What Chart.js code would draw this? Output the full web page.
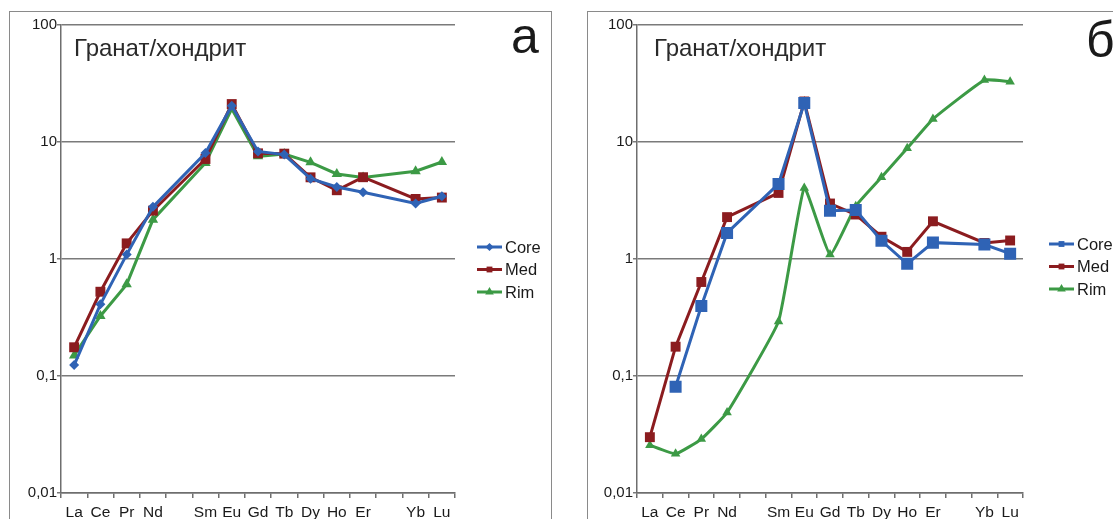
<!DOCTYPE html>
<html>
<head>
<meta charset="utf-8">
<script src="https://cdn.jsdelivr.net/npm/chart.js@4.4.1/dist/chart.umd.min.js"></script>
<style>
  html, body { margin: 0; padding: 0; background: #fff; }
  body { width: 1113px; height: 519px; position: relative; overflow: hidden; font-family: "Liberation Sans", Arial, sans-serif; }
  .frame { position: absolute; border: 1.5px solid #8a8a8a; }
  .box { position: absolute; top: 0; height: 519px; }
  .title { position: absolute; font-size: 24px; color: #2a2a2a; line-height: 24px; white-space: nowrap; }
  .letter { position: absolute; font-size: 50px; color: #1a1a1a; line-height: 50px; }
</style>
</head>
<body>
<div class="frame" style="left:9px; top:11px; width:541px; height:520px;"></div>
<div class="frame" style="left:587px; top:11px; width:540px; height:520px;"></div>

<div class="box" style="left:0; width:556px;"><canvas id="chartA"></canvas></div>
<div class="box" style="left:556px; width:557px;"><canvas id="chartB"></canvas></div>

<div class="title" style="left:74px; top:36px;">Гранат/хондрит</div>
<div class="title" style="left:654px; top:36px;">Гранат/хондрит</div>
<div class="letter" style="left:511px; top:11px;">а</div>
<div class="letter" style="left:1086px; top:15px;">б</div>

<script>
// элементы (Pm и Tm пропущены)
const elements = ['La', 'Ce', 'Pr', 'Nd', '', 'Sm', 'Eu', 'Gd', 'Tb', 'Dy', 'Ho', 'Er', '', 'Yb', 'Lu'];
const yTicks = [0.01, 0.1, 1, 10, 100];

// панель а
const coreA = [0.124, 0.41, 1.09, 2.79, null, 8.05, 20.4, 8.3, 7.8, 4.86, 4.13, 3.72, null, 2.98, 3.44];
const medA  = [0.176, 0.525, 1.36, 2.59, null, 7.16, 21.1, 8.0, 7.95, 4.99, 3.87, 5.0, null, 3.26, 3.35];
const rimA  = [0.150, 0.326, 0.607, 2.17, null, 6.62, 19.2, 7.54, 7.9, 6.70, 5.33, 4.97, null, 5.62, 6.75];

// панель б
const coreB = [null, 0.081, 0.396, 1.67, null, 4.38, 21.5, 2.59, 2.62, 1.43, 0.91, 1.38, null, 1.33, 1.11];
const medB  = [0.030, 0.178, 0.636, 2.28, null, 3.67, 22.2, 2.98, 2.40, 1.55, 1.15, 2.10, null, 1.37, 1.44];
const rimB  = [0.0256, 0.0216, 0.0289, 0.0488, null, 0.293, 4.05, 1.09, 2.83, 4.99, 8.83, 15.7, null, 33.8, 32.7];

const BLUE = '#2f63b5';
const RED = '#8b1c1f';
const GREEN = '#3c9a45';

// легенда справа от графика
const sideLegend = {
  id: 'sideLegend',
  afterDraw(chart, args, opts) {
    const ctx = chart.ctx;
    ctx.save();
    chart.data.datasets.forEach((ds, i) => {
      const y = opts.y + i * opts.step;
      ctx.strokeStyle = ds.borderColor;
      ctx.lineWidth = 3;
      ctx.beginPath();
      ctx.moveTo(opts.x, y);
      ctx.lineTo(opts.x + 25, y);
      ctx.stroke();
      Chart.helpers.drawPoint(ctx, {
        pointStyle: ds.pointStyle, radius: 2, borderWidth: 1, rotation: 0
      }, opts.x + 12.5, y);
      ctx.fillStyle = ds.borderColor;
      ctx.fill();
      ctx.fillStyle = '#1a1a1a';
      ctx.font = '16.5px "Liberation Sans", Arial, sans-serif';
      ctx.textAlign = 'left';
      ctx.textBaseline = 'middle';
      ctx.fillText(ds.label, opts.x + 28, y + 1);
    });
    ctx.restore();
  }
};

function series(label, data, color, style, radius, tension) {
  return {
    label: label,
    data: data,
    borderColor: color,
    backgroundColor: color,
    borderWidth: 3,
    pointStyle: style,
    pointRadius: radius,
    pointBorderWidth: 0,
    pointBackgroundColor: color,
    tension: tension,
    spanGaps: true
  };
}

function makeChart(id, datasets, pad, legendPos) {
  const ctx = document.getElementById(id).getContext('2d');
  return new Chart(ctx, {
    type: 'line',
    data: { labels: elements, datasets: datasets },
    options: {
      responsive: false,
      animation: false,
      layout: { padding: pad },
      scales: {
        x: {
          type: 'category',
          offset: true,
          border: { color: '#6e6e6e', width: 1.5 },
          grid: { offset: true, drawOnChartArea: false, tickLength: 5, color: '#6e6e6e', lineWidth: 1.5 },
          ticks: {
            autoSkip: false, maxRotation: 0, padding: 5,
            color: '#1a1a1a', font: { family: '"Liberation Sans", Arial, sans-serif', size: 15.5 }
          },
          afterFit: (s) => { s.height = 26; }
        },
        y: {
          type: 'logarithmic',
          min: 0.01,
          max: 100,
          border: { color: '#6e6e6e', width: 1.5 },
          grid: { color: '#7a7a7a', lineWidth: 1.5, tickLength: 4 },
          afterBuildTicks: (s) => { s.ticks = yTicks.map(v => ({ value: v })); },
          ticks: {
            padding: 0,
            color: '#1a1a1a',
            font: { family: '"Liberation Sans", Arial, sans-serif', size: 15 },
            callback: (v) => String(v).replace('.', ',')
          },
          afterFit: (s) => { s.width = 61; }
        }
      },
      plugins: {
        legend: { display: false },
        tooltip: { enabled: false },
        sideLegend: legendPos
      }
    },
    plugins: [sideLegend]
  });
}

document.getElementById('chartA').width = 556;
document.getElementById('chartA').height = 519;
document.getElementById('chartB').width = 557;
document.getElementById('chartB').height = 519;

makeChart('chartA', [
  series('Core', coreA, BLUE, 'rectRot', 5, 0),
  series('Med', medA, RED, 'rect', 7, 0),
  series('Rim', rimA, GREEN, 'triangle', 6, 0)
], { left: 0, right: 101, top: 25, bottom: 0 }, { x: 477, y: 247, step: 22.5 });

makeChart('chartB', [
  series('Core', coreB, BLUE, 'rect', 8.5, 0),
  series('Med', medB, RED, 'rect', 7, 0),
  series('Rim', rimB, GREEN, 'triangle', 5.5, 0.12)
], { left: 20, right: 90, top: 25, bottom: 0 }, { x: 493, y: 244, step: 22.5 });
</script>
</body>
</html>
